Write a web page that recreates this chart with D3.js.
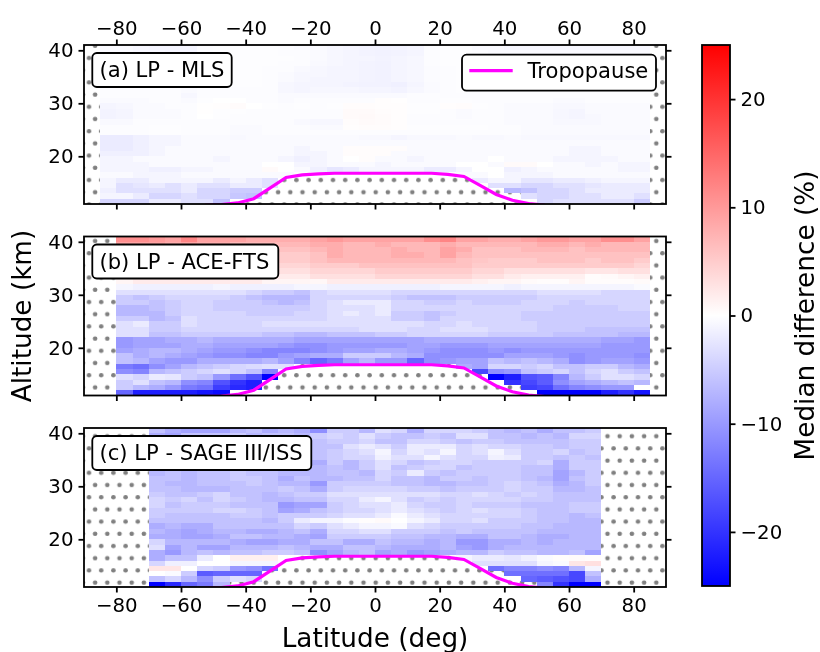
<!DOCTYPE html>
<html><head><meta charset="utf-8">
<script src="https://cdn.jsdelivr.net/npm/d3@7/dist/d3.min.js"></script>
<style>html,body{margin:0;padding:0;background:#fff}svg{display:block;filter:blur(0.4px)}text{font-family:"DejaVu Sans",sans-serif;fill:#000}</style>
</head><body><svg id="c" width="820" height="652"></svg>
<script>
const _ = null;
const latTicks = [-80,-60,-40,-20,0,20,40,60,80];
const altTicks = [20,30,40];
const cbTicks = [-20,-10,0,10,20];
const panelTitles = ["(a) LP - MLS","(b) LP - ACE-FTS","(c) LP - SAGE III/ISS"];
const legendLabel = "Tropopause";
const xTitle = "Latitude (deg)", yTitle = "Altitude (km)", cbTitle = "Median difference (%)";
const tropLat = [-52.5,-47.5,-42.5,-37.5,-32.5,-27.5,-22.5,-17.5,-12.5,-7.5,-2.5,2.5,7.5,12.5,17.5,22.5,27.5,32.5,37.5,42.5,47.5,52.5];
const tropAlt = [10.8,10.9,11.2,12.0,14.0,16.0,16.5,16.7,16.8,16.8,16.8,16.8,16.8,16.8,16.8,16.6,16.2,14.5,12.8,11.7,11.1,10.8];
const altBase = 11;
const latStartA = -85, latStartB = -80, latStartC = -70;

// rows run upward from 11-12 km to 40-41 km
const valuesA = [
[-4,-4,-4,-2,-2,-3,-3,-6,_,_,_,_,_,_,_,_,_,_,_,_,_,_,_,_,_,_,_,-4,-3,-3,-3,-3,-3,-5],
[-1,-1,-2,-4,-4,-3,-4,-4,-5.5,-6,_,_,_,_,_,_,_,_,_,_,_,_,_,_,_,_,-3,-4,-4,-3,-3,-2,-2,-3],
[-1.5,-3,-3,-3,-3,-2,-4,-4,-5,-5,_,_,_,_,_,_,_,_,_,_,_,_,_,_,_,-7,-6,-4,-4,-3,-2,-2,-2,-2],
[-1,-3,-2.5,-2,-3,-2,-3,-3,-2,-2,-3,_,_,_,_,_,_,_,_,_,_,_,_,_,-3,-3,-4,-4,-3,-3,-2.5,-2,-2,-2],
[-1,-2,-2,-1,-1,-1,-1,-2,-1,-2,-3,_,_,_,_,_,_,_,_,_,_,_,_,-2,-1,-1,-2.5,-2.5,-2,-2,-1.5,-1,-1,-1],
[-.5,-.5,-1,-1,-1,-.5,-.5,-.5,-.5,-.5,-.5,-.5,_,_,_,_,_,_,_,_,_,_,-.5,-.5,0,-1,-1,-1,-.5,-.5,-.5,-.5,-.5,-.5],
[-1,-1,-1,-1.5,-1.5,-1,-1,-.5,-.5,-.5,.5,0,-.5,-1.5,-2.5,-2,-1,-1,-1,-1,-2,-2,-1,0,0,-1.5,-1,-.5,-.5,-.5,-.5,-.5,-1,-1],
[-1,-1,-1,-.5,-.5,-.5,-.5,-.5,-.5,-.5,0,0,-1,-1,-.5,-.5,-.5,-1,-.5,-.5,-.5,-.5,0,0,-.5,.5,.5,0,-.5,-.5,-1,-.5,-1,-1],
[-1,-1,-.5,-.5,-.5,-.5,-.5,-1,-.5,-.5,-.5,-1,-1.5,-1,-.5,0,.3,-.5,-.5,-1,-.5,-.5,-.5,-.5,0,-.5,-.5,-.5,-1,-1,-1,-1,-.5,-.5],
[-1.5,-1.5,-1.5,-1,-.5,-.5,-.5,-.5,-.5,-.5,-.5,-.5,-1,-1,-.5,.3,.3,.3,-.5,-.5,-.5,-.5,-.5,-.5,-.5,-.5,-.5,-.5,-.5,-1,-1,-.5,-.5,-.5],
[-2,-2,-1.5,-1,-.5,-.5,-.5,-.5,-.5,-.5,-.5,-.5,-1,-.5,-.5,.3,.3,.3,.3,-.5,-.5,-.5,-.5,-.5,-.5,-.5,-.5,-.5,-.5,-1,-1,-.5,-.5,-.5],
[-2,-2,-1.5,-1,-1,-.5,-.5,-.5,-.5,-.5,-.5,-.5,-.5,-.5,-.5,-.5,-.5,-.5,-.5,-.5,-.5,-.5,-.5,-.5,-.5,-.5,-.5,-.5,-.5,-.5,-.5,-.5,-.5,-.5],
[-2,-2,-1.5,-1,-1,-.5,-.5,-.5,-.7,-.5,-.5,-.5,-.5,-.5,-.5,-.5,-.7,-.7,-1,-.7,-.7,-.7,-.5,-.7,-.7,-.5,-.7,-.7,-.7,-.7,-.7,-.7,-.7,-.7],
[-.3,-.3,-.3,-.2,-.2,-.3,-.3,-.3,-.5,-.5,-.3,-.3,-.3,-.3,-.3,-.3,-.3,-.3,-.3,-.3,-.3,-.3,-.3,-.3,-.3,-.3,-.5,-.5,-.5,-.5,-.5,-.5,-.5,-.5],
[-.3,-.3,-.3,-.2,-.2,-.3,-.3,-.3,-.5,-.5,-.3,-.3,-.3,-.5,-.5,.2,.3,.3,.2,-.2,-.2,-.2,-.2,-.2,-.3,-.3,-.5,-.5,-.5,-.5,-.5,-.5,-.5,-.5],
[-.6,-.6,-.3,-.3,-.3,-.3,-.3,-.3,-.3,-.3,-.3,-.3,-.6,-.8,-.8,.3,.5,.4,.2,-.3,-.3,-.3,-.3,-.3,-.3,-.5,-.5,-.5,-.7,-.7,-.7,-.5,-.5,-.5],
[-1.2,-1,-.5,-.5,-.5,-.3,0,-.2,-.3,-.3,-.3,-.3,-.3,-.3,-.3,.5,.6,.4,.2,-.3,-.3,-.3,-.5,-.3,-.3,-.5,-.5,-.5,-.8,-1,-.7,-.5,-.5,-.5],
[-1.2,-1,-.5,-.5,-.5,-.3,.1,-.2,-.2,-.3,-.3,-.3,-.3,-.3,-.3,.5,.5,.3,.2,-.2,-.2,-.3,-.5,-.3,-.3,-.5,-.5,-.5,-.8,-1,-.5,-.5,-.5,-.5],
[-1,-.8,-.5,-.5,-.3,-.3,.1,.2,.4,0,-.2,-.3,-.2,-.3,-.2,.3,.3,.2,.2,-.2,-.2,.2,.3,-.2,-.3,-.5,-.5,-.5,-.7,-.7,-.5,-.5,-.5,-.5],
[-.5,-.5,-.5,-.3,-.3,-.5,-.2,0,0,-.3,-.3,-.5,-.3,-.3,-.3,-.3,-.3,.2,.1,-.3,-.3,-.2,-.2,-.3,-.3,-.3,-.3,-.3,-.5,-.5,-.3,-.3,-.3,-.3],
[-.3,-.3,-.3,-.3,-.3,-.8,-.3,-.3,-.3,-.3,-.3,-.5,-.5,-.5,-.5,-.5,-.5,-.5,-.5,-.3,-.3,-.3,-.3,-.3,-.3,-.3,-.3,-.3,-.3,-.3,-.3,-.3,-.3,-.3],
[-.3,-.3,-.3,-.3,-.3,-.5,-.3,-.3,-.3,-.3,-.3,-.8,-1,-.8,-.8,-.8,-1,-1,-1.2,-.8,-.5,-.3,-.2,-.3,-.3,-.3,-.3,-.3,-.3,-.3,-.3,-.3,-.3,-.3],
[-.2,-.2,-.2,-.2,-.2,-.3,-.2,-.2,-.2,-.2,-.3,-.8,-1,-1,-1,-1.2,-1.3,-1.3,-1.5,-1,-.5,-.3,-.2,-.2,-.2,-.2,-.2,-.2,-.2,-.2,-.2,-.2,-.2,-.2],
[-.2,-.2,-.2,-.2,-.2,-.2,-.2,-.2,-.2,-.2,-.3,-.5,-.8,-1,-1,-1,-1.2,-1.3,-1,-.8,-.4,-.3,-.2,-.2,-.2,-.2,-.2,-.2,-.2,-.2,-.2,-.2,-.2,-.2],
[-.2,-.2,-.2,-.2,-.2,-.2,-.2,-.2,-.2,-.2,-.3,-.5,-.8,-.8,-1,-1,-1.2,-1.3,-1,-.8,-.4,-.3,-.2,-.2,-.2,-.2,-.2,-.2,-.2,-.2,-.2,-.2,-.2,-.2],
[-.2,-.2,-.2,-.2,-.2,-.2,-.2,-.2,-.2,-.2,-.3,-.3,-.6,-.8,-1,-1,-1.2,-1.3,-1,-.8,-.4,-.3,-.2,-.2,-.2,-.2,-.2,-.2,-.2,-.2,-.2,-.2,-.2,-.2],
[-.3,-.3,-.3,-.3,-.3,-.3,-.2,-.2,-.2,-.2,-.2,-.3,-.3,-.6,-.8,-1,-1.2,-1.3,-1,-.8,-.3,-.2,-.2,-.2,-.2,-.2,-.2,-.3,-.3,-.3,-.3,-.3,-.3,-.3],
[-.5,-.5,-.5,-.5,-.8,-.8,-.3,-.2,-.2,-.2,-.2,-.2,-.3,-.5,-.8,-1,-1,-1.2,-1,-.8,-.3,-.2,-.2,-.3,-.3,-.3,-.3,-.3,-.5,-.5,-.5,-.5,-.5,-.5],
[-.5,-.5,-.8,-.8,-1,-1,-.3,-.2,-.2,-.2,-.2,-.3,-.3,-.5,-.8,-1,-1.2,-1.3,-1.2,-1,-.3,-.2,-.2,-.3,-.5,-.5,-.5,-.5,-.5,-.5,-.5,-.5,-.5,-.5],
[-.5,-.5,-.8,-1,-1,-1,-.3,-.2,-.2,-.2,-.2,-.3,-.5,-.5,-.8,-1,-1.2,-1.3,-1.2,-1,-.3,-.2,-.2,-.5,-.5,-.8,-.8,-.8,-.8,-.8,-.8,-.8,-.8,-.8]
];
const valuesB = [
[-15,-22,-22,-22,-22,-23,-24,_,_,_,_,_,_,_,_,_,_,_,_,_,_,_,_,_,_,_,-25,-25,-25,-25,-22,-20,-23],
[-5,-7,-8,-10,-13,-14,-19,-21,-22,_,_,_,_,_,_,_,_,_,_,_,_,_,_,_,_,-19,-18,-14,-12,-11,-10,-10,0],
[-5,-3,-6,-7,-11,-12,-17,-20,-22,_,_,_,_,_,_,_,_,_,_,_,_,_,_,_,-20,-18,-16,-11,-9,-8,-7,-6,-7],
[-3,-4,-2,-2.5,-5,-6,-10,-14,-17,-25,_,_,_,_,_,_,_,_,_,_,_,_,_,-25,-22,-17,-16,-12,-7,-5,-3,-3,-4],
[-11,-12,-7,-6,-5,-4,-3,-4,-6,-12,_,_,_,_,_,_,_,_,_,_,_,_,-18,-11,-10,-6,-5,-4,-6,-4,-3,-5,-6],
[-13,-14,-11,-9,-7,-6,-5,-4,-3.5,-3,-3,_,_,_,_,_,_,_,_,_,_,-8,-9,-4,-4,-5,-4,-6,-6,-5,-5,-7,-8],
[-6,-7,-9,-10,-10,-8,-8,-8,-8,-7,-9,-12,-15,-13,-9,-7,-10,-10,-15,-11,-10,-9,-9,-6,-7,-6,-7,-8,-11,-10,-9,-9,-10],
[-6,-8,-7,-8,-9,-10,-11,-11,-12,-12,-10,-9,-8,-8,-5,-5,-5,-7,-8,-11,-11,-11,-11,-11,-9,-9,-9,-10,-11,-10,-10,-10,-11],
[-9,-8,-7,-7,-8,-9,-10,-10,-11,-12,-12,-12,-11,-10,-9,-9,-8,-8,-9,-10,-11,-11,-11,-10,-11,-10,-10,-10,-10,-10,-10,-10,-10],
[-10,-9,-9,-9,-8,-8,-9,-9,-9,-9,-10,-11,-11,-10,-10,-10,-10,-10,-9,-9,-10,-10,-10,-9,-9,-9,-9,-9,-9,-9,-10,-10,-10],
[-10,-9,-9,-8,-8,-7,-8,-8,-8,-8,-8,-9,-9,-9,-9,-9,-9,-9,-9,-8,-8,-8,-8,-8,-8,-8,-8,-8,-8,-8,-9,-9,-10],
[-3,-3,-6,-6,-5,-5,-5,-5,-5,-6,-6,-7,-7,-6,-6,-6,-5,-5,-4,-4,-4,-4,-4,-5,-5,-5,-5,-6,-6,-6,-6,-7,-7],
[-3,-3,-5,-5,-4,-4,-4,-4,-4,-4,-4,-4,-4,-4,-4,-3,-3,-3,-4,-4,-3,-3,-3,-4,-4,-4,-5,-5,-5,-6,-6,-6,-6],
[-3,-2,-5,-5,-3,-4,-4,-4,-4,-3,-3,-3,-3,-3,-3,-3,-3,-3,-3,-4,-4,-3,-4,-4,-4,-4,-5,-5,-5,-5,-5,-5,-5],
[-5,-5,-7,-6,-3,-4,-4,-4,-4,-4,-4,-4,-4,-3,-3,-3,-3,-5,-5,-6,-4,-4,-4,-4,-4,-5,-5,-5,-5,-5,-5,-5,-5],
[-7,-7,-7,-5,-4,-4,-4,-4,-5,-5,-5,-4,-4,-3,-2,-3,-2,-5,-5,-6,-5,-4,-4,-4,-4,-5,-5,-5,-5,-5,-5,-5,-5],
[-7,-7,-6,-5,-4,-4,-5,-5,-5,-5,-5,-5,-4,-3,-3,-3,-2,-4,-4,-4,-4,-4,-4,-4,-4,-4,-4,-5,-5,-5,-5,-4,-4],
[-5,-5,-6,-5,-4,-4,-5,-5,-5,-6,-7,-6,-4,-3,-2,-2,-2,-4,-4,-5,-5,-4,-5,-5,-5,-4,-4,-4,-5,-4,-4,-4,-4],
[-5,-6,-5,-4,-4,-4,-4,-5,-6,-7,-7,-7,-4,-4,-4,-4,-4,-5,-6,-6,-6,-5,-5,-5,-5,-5,-4,-4,-4,-4,-4,-4,-4],
[-3,-3,-3,-3,-3,-3,-3,-3,-4,-5,-5,-6,-4,-3,-3,-3,-3,-4,-4,-4,-4,-4,-4,-4,-4,-4,-3,-3,-3,-3,-4,-4,-4],
[-1,-1.5,-1.5,-1.5,-1.5,-1.5,-1,-1.5,-1.5,-1.5,-1.5,-1,-1,-1.5,-1.5,-1.5,-1.5,-1.5,-1.5,-1.5,-1,-1,-1,-1,-1.5,-1,-1,-1,-1,-1,-1,-1,-.5],
[1,2,2,2,2,2,2,2,2,1,1,1,.8,2,2,2,2,2,2,2,2,2,1.5,1,1,.5,.3,.3,1,.3,.3,.3,.5],
[3,4,4,4,4,4,4,3,3,2,2,2,3,3,3,3,4,4,4,4,4,4,3,3,2,1.5,1.5,1.5,1.5,.3,.5,1,1.5],
[5,6,6,5,5,5,5,4,4,3.5,3,3,4,4,4,4,5,5,5,5,5,5,4,4,3,3,3,3,3,2.5,2.5,3,3],
[6,6,6,6,6,6,6,5,5,5,4,4,5,5,5,6,6,6,6,6,6,6,5,5,5,5,5,5,5,5,5,5,4],
[7,7,7,7,7,7,7,6,6,6,5,5,6,7,7,7,7,7,7,7,7,6,5.5,5,5,5,6,6,6,5,6,6,5],
[7,7,7,7,8,7,7,6,6,5,5,5,6,8,7,7,7,8,8,7,9,7,6,6,6,6,6,6,6,6,6,6,6],
[8,8,8,7,8,7,7,7,6,6,6,6,7,8,7,7,7,8,7,7,9,8,6,6,6,7,7,7,6,7,7,7,7],
[9,9,9,8,9,8,8,7,7,7,7,7,8,8,7,7,8,7,7,7,8,7,7,7,7,7,8,8,7,8,7,7,7],
[11,11,10,9,12,9,9,9,8,8,8,8,9,10,9,9,9,9,9,11,12,9,9,8,8,9,10,10,9,9,11,11,9]
];
const valuesC = [
[-25,-21,-15,-13,-7,_,_,_,_,_,_,_,_,_,_,_,_,_,_,_,_,_,_,_,-12,-20,-25,-25],
[-6,-4,-7,-11,-5,-3,-4,_,_,_,_,_,_,_,_,_,_,_,_,_,_,_,_,-15,-16,-17,-18,-8],
[0,-.5,-5,-16,-15,-15,-15,_,_,_,_,_,_,_,_,_,_,_,_,_,_,_,-14,-14,-14,-14,-18,-6],
[2.5,2.5,0,-4,-5,-10,-11,-14,_,_,_,_,_,_,_,_,_,_,_,_,_,-14,-12,-12,-11,-12,-7,-1],
[-4,-1.5,-1.5,0,0,-1,-1,-1,_,_,_,_,_,_,_,_,_,_,_,_,-3,-3,-3,-3,-1,-.5,2.5,3],
[-8,-6,-6,-2,0,1.5,1.5,1.5,0,_,_,_,_,_,_,_,_,_,_,-1,-2,-2,-2.5,-1.5,-.5,.3,.5,.3],
[-8,-10,-7,-6,-7,-6,-6,-5,-5,-6,-11,-9,-7,-6,-9,-8,-10,-9,-8,-7,-7,-5,-6,-6,-7,-7,-6,-9],
[-3,-9,-7,-9,-9,-7,-7,-7,-6,-7,-8,-8,-6,-6,-7,-8,-8,-8,-7,-9,-10,-8,-7,-7,-7,-7,-7,-7],
[-4,-7,-7,-7,-7,-8,-9,-9,-8,-8,-6,-6,-8,-8,-6,-7,-7,-8,-7,-10,-10,-8,-8,-7,-8,-7,-7,-7],
[-8,-8,-9,-9,-8,-6,-6,-7,-7,-8,-9,-5,-5,-5,-5,-6,-6,-7,-7,-8,-8,-6,-6,-7,-8,-8,-7,-7],
[-7,-8,-9,-8,-7,-7,-8,-8,-7,-6,-8,-4,-4,-3,-3,-5,-5,-5,-6,-5,-6,-6,-6,-6,-7,-7,-7,-7],
[-8,-7,-8,-8,-6,-6,-6,-6,-6,-4,-5,-3,-2,-1,-1,-.5,-3,-4,-5,-5,-5,-5,-5,-6,-6,-7,-7,-7],
[-6,-6,-6,-6,-6,-6,-6,-7,-5,-2,-1,-1,-.3,.2,.5,0,-1,-2,-4,-4,-3,-5,-5,-5,-6,-6,-7,-7],
[-5,-6,-6,-6,-6,-5,-5,-6,-5,-5,-5,-4,-3,-3,-2,-.5,-2,-3,-4,-4,-4,-4,-4,-5,-6,-6,-7,-6],
[-5,-5,-5,-5,-4,-4,-5,-6,-9,-8,-6,-5,-4,-4,-3,-2,-3,-4,-5,-4,-3,-4,-4,-5,-6,-6,-5,-5],
[-4,-6,-5,-5,-5,-6,-6,-6,-10,-9,-9,-5,-4,-3,-3,-2,-4,-5,-5,-4,-5,-5,-5,-6,-6,-6,-5,-5],
[-4,-5,-4,-6,-4,-5,-6,-7,-7,-6,-6,-4,-4,-2,-1,-3,-5,-4,-5,-4,-4,-4,-4,-5,-5,-6,-6,-6],
[-5,-6,-6,-5,-4,-6,-6,-7,-6,-5,-5,-3,-3,-3,-3,-3,-3,-3,-4,-4,-3,-4,-5,-4,-5,-6,-6,-6],
[-6,-6,-7,-7,-7,-6,-6,-6,-5,-6,-8,-5,-4,-4,-4,-4,-5,-5,-6,-5,-5,-5,-4,-5,-5,-7,-7,-6],
[-6,-7,-7,-6,-6,-6,-5,-6,-7,-7,-10,-5,-5,-5,-5,-6,-6,-7,-7,-6,-6,-5,-4,-5,-6,-8,-7,-5],
[-6,-6,-7,-6,-6,-5,-5,-6,-8,-6,-7,-7,-6,-6,-4,-6,-6,-7,-5,-5,-6,-5,-5,-6,-7,-9,-6,-5],
[-7,-6,-7,-6,-6,-5,-6,-6,-7,-7,-7,-6,-6,-7,-4,-5,-2,-5,-6,-5,-5,-5,-5,-6,-6,-9,-7,-5],
[-8,-6,-7,-6,-6,-6,-6,-6,-8,-6,-7,-6,-7,-5,-3,-6,-5,-4,-4,-6,-5,-5,-5,-6,-6,-8,-5,-5],
[-7,-6,-6,-5,-6,-6,-5,-6,-6,-6,-8,-5,-7,-5,-3,-4,-6,-5,-4,-4,-5,-5,-5,-5,-4,-8,-5,-5],
[-6,-6,-5,-6,-7,-6,-7,-7,-7,-6,-6,-5,-4,-4,-1.5,-3,-3,-1,-3,-4,-4,-1.5,-2,-5,-5,-6,-5,-6],
[-6,-6,-6,-7,-7,-6,-7,-7,-7,-6,-6,-5,-4,-3,-1,-4,-2,-3,-1,-4,-3,-1,-3,-5,-5,-4,-6,-5],
[-7,-7,-7,-7,-6,-6,-7,-7,-7,-6,-6,-6,-3,-2,-3,-5,-2,-2,-2,-4,-3,-4,-4,-5,-5,-6,-5,-5],
[-8,-6,-6,-6,-6,-7,-6,-7,-7,-7,-6,-5,-5,-4,-6,-6,-4,-4,-5,-6,-5,-5,-6,-6,-6,-6,-5,-5],
[-8,-9,-6,-6,-6,-5,-7,-6,-6,-7,-5,-4,-5,-3,-5,-6,-6,-5,-6,-3,-3,-6,-6,-7,-6,-7,-4,-4],
[-6,-8,-9,-9,-9,-7,-6,-8,-7,-8,-11,-5,-5,-7,-3,-4,-8,-4,-4,-4,-5,-6,-7,-6,-8,-6,-6,-5]
];

const svg = d3.select("#c");
const LEFT = 84, RIGHT = 666, PH = 159;
const x = d3.scaleLinear().domain([-90,90]).range([LEFT,RIGHT]);
const color = d3.scaleLinear().domain([-25,0,25]).range(["#0000ff","#ffffff","#ff0000"]);
const defs = svg.append("defs");
const SW = 1.8, TICK_FS = 19.8, BOX_FS = 21.1, TITLE_FS = 26.3, LINE_W = 3.2, DOT_R = 2.3;

// Hatch for missing data: staggered grey dots, one continuous lattice across the figure
const pat = defs.append("pattern").attr("id","dots").attr("patternUnits","userSpaceOnUse")
  .attr("width",12.2).attr("height",24.4).attr("x",89-6.1).attr("y",180-6.1);
pat.append("circle").attr("cx",6.1).attr("cy",6.1).attr("r",DOT_R).attr("fill","#808080");
pat.append("circle").attr("cx",12.2).attr("cy",18.3).attr("r",DOT_R).attr("fill","#808080");
pat.append("circle").attr("cx",0).attr("cy",18.3).attr("r",DOT_R).attr("fill","#808080");

const panels = [
 {top:45,    vals:valuesA, start:latStartA, title:panelTitles[0], tw:139.4, topTicks:true,  xLabels:false},
 {top:236.5, vals:valuesB, start:latStartB, title:panelTitles[1], tw:186,   topTicks:false, xLabels:false},
 {top:428,   vals:valuesC, start:latStartC, title:panelTitles[2], tw:219,   topTicks:false, xLabels:true}
];

panels.forEach((p,i)=>{
  const y = d3.scaleLinear().domain([11,41]).range([p.top+PH,p.top]);
  const clipId = "clip"+i;
  defs.append("clipPath").attr("id",clipId).append("rect")
    .attr("x",LEFT).attr("y",p.top).attr("width",RIGHT-LEFT).attr("height",PH);
  const g = svg.append("g");
  g.append("rect").attr("x",LEFT).attr("y",p.top).attr("width",RIGHT-LEFT).attr("height",PH).attr("fill","#fff");
  g.append("rect").attr("x",LEFT).attr("y",p.top).attr("width",RIGHT-LEFT).attr("height",PH).attr("fill","url(#dots)");
  const cells = [];
  p.vals.forEach((row,r)=>row.forEach((v,c)=>{ if(v!==null) cells.push({v,lat:p.start+5*c,alt:altBase+r}); }));
  g.append("g").attr("shape-rendering","crispEdges").selectAll("rect").data(cells).join("rect")
    .attr("x",d=>x(d.lat)).attr("width",d=>x(d.lat+5)-x(d.lat))
    .attr("y",d=>y(d.alt+1)).attr("height",d=>y(d.alt)-y(d.alt+1))
    .attr("fill",d=>color(d.v));
  const line = d3.line().x((d,k)=>x(tropLat[k])).y(d=>y(d));
  g.append("path").datum(tropAlt).attr("d",line).attr("fill","none").attr("stroke","#ff00ff")
    .attr("stroke-width",LINE_W).attr("clip-path",`url(#${clipId})`);

  const styleAxis = a=>{
    a.selectAll(".domain").remove();
    a.selectAll("line").attr("stroke","#000").attr("stroke-width",SW);
    a.selectAll("text").attr("font-size",TICK_FS).attr("font-family","DejaVu Sans");
  };
  const noLab = ()=>"";
  svg.append("g").attr("transform",`translate(0,${p.top+PH})`)
    .call(d3.axisBottom(x).tickValues(latTicks).tickSize(5.5).tickPadding(5).tickFormat(p.xLabels?d3.format("d"):noLab)).call(styleAxis);
  if(p.topTicks) svg.append("g").attr("transform",`translate(0,${p.top})`)
    .call(d3.axisTop(x).tickValues(latTicks).tickSize(5.5).tickPadding(5).tickFormat(d3.format("d"))).call(styleAxis);
  svg.append("g").attr("transform",`translate(${LEFT},0)`)
    .call(d3.axisLeft(y).tickValues(altTicks).tickSize(5.5).tickPadding(5).tickFormat(d3.format("d"))).call(styleAxis);
  svg.append("g").attr("transform",`translate(${RIGHT},0)`)
    .call(d3.axisRight(y).tickValues(altTicks).tickSize(5.5).tickFormat(noLab)).call(styleAxis);
  svg.append("rect").attr("x",LEFT).attr("y",p.top).attr("width",RIGHT-LEFT).attr("height",PH)
    .attr("fill","none").attr("stroke","#000").attr("stroke-width",SW);

  svg.append("rect").attr("x",92.3).attr("y",p.top+8).attr("width",p.tw).attr("height",34).attr("rx",4.5)
    .attr("fill","#fff").attr("stroke","#000").attr("stroke-width",SW);
  svg.append("text").attr("x",99.5).attr("y",p.top+32).attr("font-size",BOX_FS).text(p.title);
});

// Legend
const lg = svg.append("g");
lg.append("rect").attr("x",462).attr("y",54.7).attr("width",194).attr("height",36).attr("rx",4.5)
  .attr("fill","#fff").attr("stroke","#000").attr("stroke-width",SW);
lg.append("line").attr("x1",469.3).attr("x2",512.7).attr("y1",70.7).attr("y2",70.7).attr("stroke","#ff00ff").attr("stroke-width",LINE_W);
lg.append("text").attr("x",527.5).attr("y",78).attr("font-size",BOX_FS).text(legendLabel);

// Colour bar
const cbX = 702, cbW = 28, cbTop = 45, cbBot = 586;
const cbScale = d3.scaleLinear().domain([-25,25]).range([cbBot,cbTop]);
const grad = defs.append("linearGradient").attr("id","cbgrad").attr("x1",0).attr("x2",0).attr("y1",1).attr("y2",0);
[-25,0,25].forEach(v=>grad.append("stop").attr("offset",(v+25)/50).attr("stop-color",color(v)));
svg.append("rect").attr("x",cbX).attr("y",cbTop).attr("width",cbW).attr("height",cbBot-cbTop).attr("fill","url(#cbgrad)");
const cbAxis = svg.append("g").attr("transform",`translate(${cbX+cbW},0)`)
  .call(d3.axisRight(cbScale).tickValues(cbTicks).tickSize(5.5).tickPadding(5).tickFormat(d3.format("d")));
cbAxis.selectAll(".domain").remove();
cbAxis.selectAll("line").attr("stroke","#000").attr("stroke-width",SW);
cbAxis.selectAll("text").attr("font-size",TICK_FS).attr("font-family","DejaVu Sans");
svg.append("rect").attr("x",cbX).attr("y",cbTop).attr("width",cbW).attr("height",cbBot-cbTop)
  .attr("fill","none").attr("stroke","#000").attr("stroke-width",SW);

// Axis titles
svg.append("text").attr("x",375).attr("y",647).attr("text-anchor","middle").attr("font-size",TITLE_FS).text(xTitle);
svg.append("text").attr("transform","translate(31,316) rotate(-90)").attr("text-anchor","middle").attr("font-size",TITLE_FS).text(yTitle);
svg.append("text").attr("transform","translate(814,315.5) rotate(-90)").attr("text-anchor","middle").attr("font-size",TITLE_FS).text(cbTitle);
</script></body></html>
